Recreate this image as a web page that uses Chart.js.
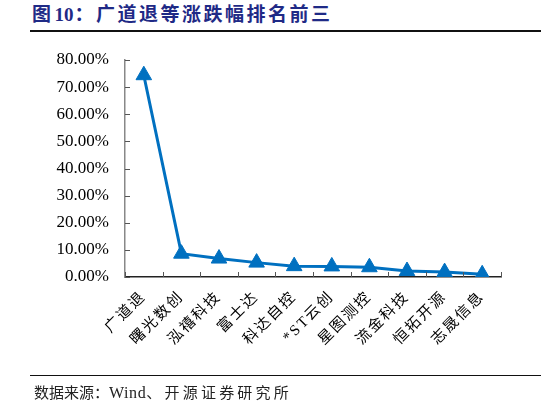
<!DOCTYPE html>
<html>
<head>
<meta charset="utf-8">
<script src="https://cdn.jsdelivr.net/npm/chart.js@4.4.1/dist/chart.umd.min.js"></script>
<style>
  html, body { margin:0; padding:0; background:#fff; }
  body { width:546px; height:405px; position:relative; overflow:hidden; }
  #title { position:absolute; left:32px; top:3px; font-family:"Liberation Serif","Noto Sans CJK SC",serif; font-weight:bold; font-size:19px; color:#1F2A86; white-space:nowrap; line-height:24px; }
  #title .cj { letter-spacing:2.5px; }
  #title .n { letter-spacing:0; margin:0 1px; }
  #tline { position:absolute; left:30px; top:30px; width:511px; height:2px; background:#111; }
  #bline { position:absolute; left:30px; top:375px; width:511px; height:1px; background:#111; }
  #source { position:absolute; left:34px; top:384px; font-family:"Liberation Serif","Noto Sans CJK SC",serif; font-size:15px; color:#222; white-space:nowrap; line-height:18px; }
  #source .a { letter-spacing:0; }
  #source .w { font-size:16px; letter-spacing:0.6px; }
  #source .b { letter-spacing:3.2px; }
  #c { position:absolute; left:0; top:0; }
</style>
</head>
<body>
<div id="title"><span class="cj">图</span><span class="n">10</span><span class="cj">：广道退等涨跌幅排名前三</span></div>
<div id="tline"></div>
<canvas id="c" width="546" height="405"></canvas>
<div id="bline"></div>
<div id="source"><span class="a">数据来源：</span><span class="w">Wind</span><span class="b">、开源证券研究所</span></div>
<script>
const categories = ["广道退","曙光数创","泓禧科技","富士达","科达自控","*ST云创","星图测控","流金科技","恒拓开源","志晟信息"];
const changePct = [74.4, 8.6, 6.8, 5.3, 4.0, 3.9, 3.6, 2.2, 1.8, 1.0];
const yTickMax = 80;
const yTickStep = 10;

class SpacedCategory extends Chart.CategoryScale {
  drawLabels(area) {
    const ctx = this.ctx;
    ctx.save();
    ctx.letterSpacing = '2px';
    super.drawLabels(area);
    ctx.restore();
  }
}
SpacedCategory.id = 'spacedCategory';
SpacedCategory.defaults = Chart.CategoryScale.defaults;
Chart.register(SpacedCategory);

const innerTicks = {
  id: 'innerTicks',
  afterDraw(chart) {
    const ctx = chart.ctx;
    const x = chart.scales.x, y = chart.scales.y;
    const area = chart.chartArea;
    ctx.save();
    ctx.lineWidth = 1;
    ctx.strokeStyle = '#555';
    ctx.beginPath();
    y.ticks.forEach(t => {
      const py = Math.round(y.getPixelForValue(t.value)) + 0.5;
      ctx.moveTo(area.left, py);
      ctx.lineTo(area.left + 5, py);
    });
    for (let i = 0; i <= categories.length; i++) {
      const px = Math.round(x.getPixelForValue(i - 0.5)) + 0.5;
      ctx.moveTo(px, area.bottom);
      ctx.lineTo(px, area.bottom - 5);
    }
    ctx.stroke();
    ctx.restore();
  }
};

new Chart(document.getElementById('c'), {
  type: 'line',
  data: {
    labels: categories,
    datasets: [{
      data: changePct,
      borderColor: '#0070C0',
      backgroundColor: '#0070C0',
      borderWidth: 3,
      pointStyle: 'triangle',
      pointRadius: 9,
      pointHoverRadius: 9,
      pointBorderWidth: 1,
      pointBackgroundColor: '#0070C0',
      pointBorderColor: '#0070C0',
      tension: 0
    }]
  },
  options: {
    responsive: false,
    devicePixelRatio: 1,
    animation: false,
    layout: { padding: { top: 60, right: 45, bottom: 0, left: 0 } },
    plugins: { legend: { display: false }, tooltip: { enabled: false } },
    scales: {
      x: {
        type: 'spacedCategory',
        offset: true,
        grid: { display: false, drawTicks: false, offset: true },
        border: { display: true, color: '#222', width: 1.5 },
        ticks: {
          autoSkip: false,
          maxRotation: 45,
          minRotation: 45,
          padding: 11,
          color: '#000',
          font: { family: '"Liberation Serif","Noto Sans CJK SC",serif', size: 15 }
        },
        afterFit(s) { s.height = 128; }
      },
      y: {
        min: 0,
        max: yTickMax,
        grid: { display: false, drawTicks: false },
        border: { display: true, color: '#888', width: 1.5 },
        ticks: {
          stepSize: yTickStep,
          padding: 16,
          color: '#000',
          font: { family: '"Liberation Serif","Times New Roman",serif', size: 17 },
          callback: v => v.toFixed(2) + '%'
        },
        afterFit(s) { s.width = 125; }
      }
    }
  },
  plugins: [innerTicks]
});
</script>
</body>
</html>
